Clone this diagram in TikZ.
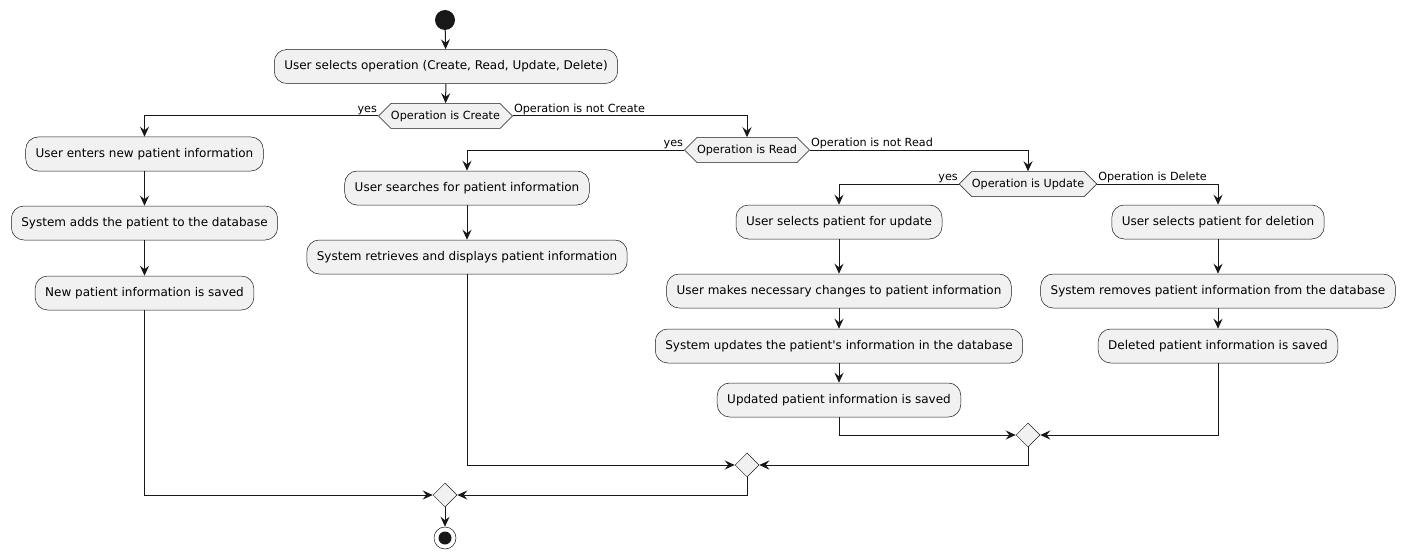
\documentclass[tikz,border=0pt]{standalone}
\usepackage{fontspec}
\setmainfont{DejaVu Sans}[Ligatures=TeXOff]
\usetikzlibrary{shapes.geometric,shapes.symbols,arrows.meta}
\definecolor{actfill}{HTML}{F1F1F1}
\definecolor{actline}{HTML}{181818}

\begin{document}
\begin{tikzpicture}[x=1pt,y=-1pt,
    act/.style={draw=actline,fill=actfill,line width=.5pt,rounded corners=12.5pt,minimum height=34pt,inner xsep=10pt,font=\fontsize{12}{14}\selectfont},
    hex/.style={signal,signal to=west and east,signal pointer angle=90,draw=actline,fill=actfill,line width=.5pt,minimum height=25pt,inner xsep=0pt,inner ysep=2pt,font=\fontsize{11.2}{13}\selectfont},
    merge/.style={diamond,draw=actline,fill=actfill,line width=.5pt,minimum size=24pt,inner sep=0pt},
    lbl/.style={inner sep=1pt,font=\fontsize{11.2}{13}\selectfont},
    arr/.style={draw=actline,line width=1pt,-{Stealth[length=10pt,width=9pt,inset=3.5pt]}},
    ln/.style={draw=actline,line width=1pt}]
  \useasboundingbox (0,0) rectangle (1405,559);
  \node[circle,fill=actline,minimum size=20pt,inner sep=0pt] (start) at (445,20) {};
  \node[act] (op) at (446,66.5) {User selects operation (Create, Read, Update, Delete)};
  \node[hex] (d1) at (445.5,116) {Operation is Create};
  \node[act] (c1) at (144.5,154) {User enters new patient information};
  \node[act] (c2) at (144.5,223) {System adds the patient to the database};
  \node[act] (c3) at (144.5,293) {New patient information is saved};
  \node[hex] (d2) at (747,150) {Operation is Read};
  \node[act] (r1) at (467,188) {User searches for patient information};
  \node[act] (r2) at (467,257) {System retrieves and displays patient information};
  \node[hex] (d3) at (1028,184) {Operation is Update};
  \node[act] (u1) at (839,222) {User selects patient for update};
  \node[act] (u2) at (839,291) {User makes necessary changes to patient information};
  \node[act] (u3) at (839,346) {System updates the patient's information in the database};
  \node[act] (u4) at (839,400) {Updated patient information is saved};
  \node[act] (x1) at (1218,222) {User selects patient for deletion};
  \node[act] (x2) at (1218,291) {System removes patient information from the database};
  \node[act] (x3) at (1218,346) {Deleted patient information is saved};
  \node[merge] (m3) at (1028,435) {};
  \node[merge] (m2) at (747,465) {};
  \node[merge] (m1) at (445,495) {};
  \node[circle,draw=actline,fill=white,line width=.5pt,minimum size=22pt,inner sep=0pt] (stop) at (445,538) {};
  \fill[actline] (stop) circle[radius=6.5pt];

  \node[lbl,anchor=south east] at (d1.west) {yes};
  \node[lbl,anchor=south west] at (d1.east) {Operation is not Create};
  \node[lbl,anchor=south east] at (d2.west) {yes};
  \node[lbl,anchor=south west] at (d2.east) {Operation is not Read};
  \node[lbl,anchor=south east] at (d3.west) {yes};
  \node[lbl,anchor=south west] at (d3.east) {Operation is Delete};

  \draw[arr] (start) -- (op);
  \draw[arr] (op) -- (d1);
  \draw[arr] (d1.west) -| (c1);
  \draw[arr] (c1) -- (c2);
  \draw[arr] (c2) -- (c3);
  \draw[arr] (d1.east) -| (d2);
  \draw[arr] (d2.west) -| (r1);
  \draw[arr] (r1) -- (r2);
  \draw[arr] (d2.east) -| (d3);
  \draw[arr] (d3.west) -| (u1);
  \draw[arr] (u1) -- (u2);
  \draw[arr] (u2) -- (u3);
  \draw[arr] (u3) -- (u4);
  \draw[arr] (d3.east) -| (x1);
  \draw[arr] (x1) -- (x2);
  \draw[arr] (x2) -- (x3);
  \draw[arr] (u4) |- (m3);
  \draw[arr] (x3) |- (m3);
  \draw[arr] (m3) |- (m2);
  \draw[arr] (r2) |- (m2);
  \draw[arr] (m2) |- (m1);
  \draw[arr] (c3) |- (m1);
  \draw[arr] (m1) -- (stop);
\end{tikzpicture}
\end{document}
